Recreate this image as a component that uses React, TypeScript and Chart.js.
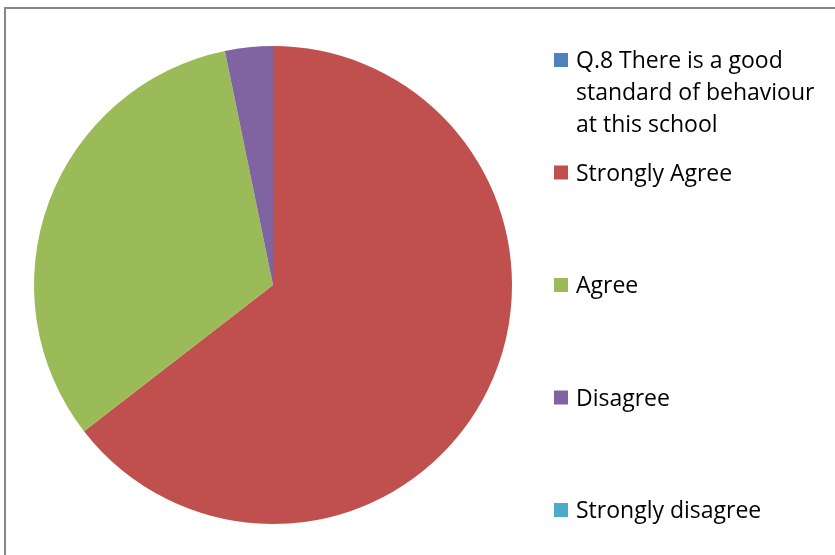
import React, { useEffect, useRef } from "react";
import { Chart, registerables } from "chart.js";

Chart.register(...registerables);

const categories = [
  "Q.8 There is a good standard of behaviour at this school",
  "Strongly Agree",
  "Agree",
  "Disagree",
  "Strongly disagree",
];
const responses = [0, 20, 10, 1, 0];
const sliceColors = ["#4F81BD", "#C0504D", "#9BBB59", "#8064A2", "#4BACC6"];

const LEGEND_FONT = "23px 'Open Sans'";
const LINE_H = 32;

function wrapText(ctx: CanvasRenderingContext2D, text: string, maxW: number): string[] {
  const words = text.split(" ");
  const lines: string[] = [];
  let cur = "";
  for (const w of words) {
    const test = cur ? cur + " " + w : w;
    if (ctx.measureText(test).width > maxW && cur) {
      lines.push(cur);
      cur = w;
    } else {
      cur = test;
    }
  }
  if (cur) lines.push(cur);
  return lines;
}

const sideLegend = {
  id: "sideLegend",
  afterDraw(chart: any) {
    const { ctx, chartArea } = chart;
    const labels = chart.data.labels as string[];
    const bg = chart.data.datasets[0].backgroundColor as string[];
    const n = labels.length;
    const x0 = chartArea.right + 42;
    const top = chartArea.top + 14;
    const bottom = chartArea.bottom - 14;
    const step = (bottom - top) / (n - 1);
    const maxW = 252;
    ctx.save();
    ctx.font = LEGEND_FONT;
    ctx.textBaseline = "alphabetic";
    ctx.textAlign = "left";
    labels.forEach((lab, i) => {
      const y = top + i * step;
      ctx.fillStyle = bg[i];
      ctx.fillRect(x0, y - 7, 14, 14);
      ctx.fillStyle = "#000000";
      const lines = wrapText(ctx, lab, maxW);
      lines.forEach((ln, j) => ctx.fillText(ln, x0 + 22, y + 8 + j * LINE_H));
    });
    ctx.restore();
  },
};

export default function App() {
  const ref = useRef<HTMLCanvasElement | null>(null);
  useEffect(() => {
    if (!ref.current) return;
    const chart = new Chart(ref.current, {
      type: "pie",
      data: {
        labels: categories,
        datasets: [
          {
            data: responses,
            backgroundColor: sliceColors,
            borderWidth: 0,
          },
        ],
      },
      options: {
        responsive: false,
        animation: false,
        layout: { padding: { left: 34, right: 323, top: 46, bottom: 31 } },
        plugins: {
          legend: { display: false },
          tooltip: { enabled: false },
        },
      },
      plugins: [sideLegend],
    });
    return () => chart.destroy();
  }, []);
  return (
    <div style={{ position: "fixed", left: 0, top: 0, width: 835, height: 555, background: "#fff", overflow: "hidden" }}>
      <div
        style={{
          position: "absolute",
          left: 4,
          top: 7,
          width: 900,
          height: 600,
          borderLeft: "2px solid #878787",
          borderTop: "2px solid #878787",
        }}
      />
      <canvas ref={ref} width={835} height={555} style={{ position: "absolute", left: 0, top: 0 }} />
    </div>
  );
}
